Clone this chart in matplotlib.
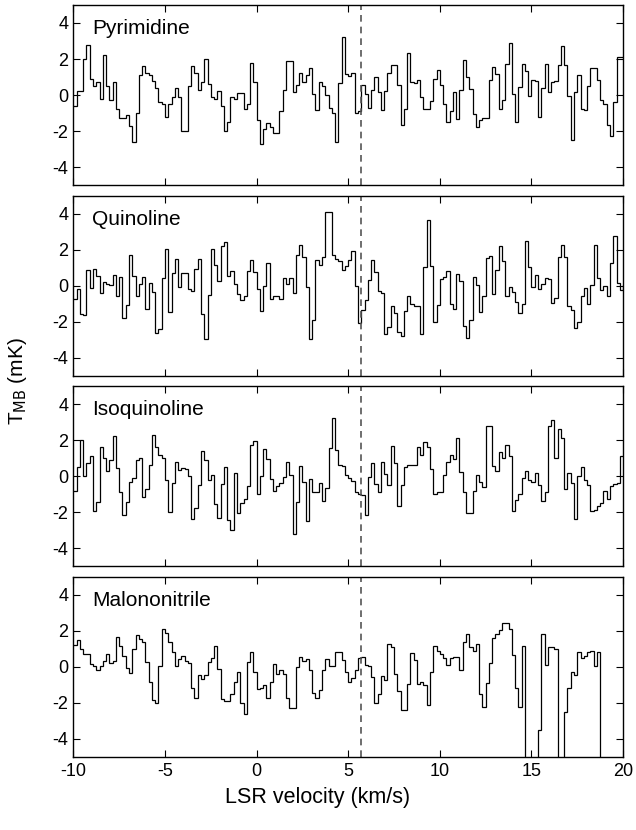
import numpy as np
import matplotlib
matplotlib.use("Agg")
import matplotlib.pyplot as plt

# ---------------- data ----------------
V0 = -10.0          # velocity of first channel edge (km/s)
DV = 0.1786         # channel width (km/s)
V_SYS = 5.7         # systemic velocity (dashed line)

names = ["Pyrimidine", "Quinoline", "Isoquinoline", "Malononitrile"]

pyrimidine = [
    -0.6, 0.2, 0.2, 2.0, 2.8, 0.9, 0.5, 0.7, -0.2, 2.2, 0.5, -0.3, 0.7, -0.8, -1.3, -1.3, -1.1, -1.7, -2.6, -1.0,
    1.1, 1.6, 1.2, 1.1, 0.8, 0.4, -0.4, -0.5, -1.2, -0.5, -0.1, 0.4, -0.1, -2.0, -2.0, 0.5, 1.6, 1.2, 0.3, 0.7,
    2.0, 0.6, -0.1, -0.2, 0.2, -0.6, -2.0, -1.5, -0.1, -0.2, 0.1, 0.1, -0.8, -0.5, 1.8,
    0.75, -1.4, -2.7, -1.9, -1.55, -1.8, -2.1, -2.1, -0.9, 0.3, 1.9, 1.9, 0.15, 0.55, 1.2, 0.7, 1.1, 1.5, 0.05, -0.85,
    0.7, 0.5, 0.0, -0.7, -1.0, -2.6, 0.65, 3.2, 1.15, 1.05, 1.2, -1.0, -0.9, 0.55, 0.05, -0.7, 0.3, 1.0, 0.15, -0.85,
    0.2, 1.25, 1.65, 1.65, 0.55, -1.65, -0.8, 2.35, 0.7, 0.65, 0.85, -0.1, -0.8, -0.8, -0.35, 0.9, 1.4, 0.55,
    -0.5, -1.5, -0.9, 0.15, -1.35, 0.3, 1.95, 1.0, 0.35, -1.05, -1.8, -1.4, -1.25, -1.25, 0.85, 1.55, 1.15, -0.8,
    -0.3, 1.7, 2.9, 0.05, -1.5, 0.45, 1.75, 1.35, -0.05, 0.85, 0.8, -1.2, 0.4, 1.7, 0.15, 0.7, 0.8, 1.65, 2.7, 1.65,
    -0.05, -2.5, 0.15, 1.1, -0.8, -0.85, 0.5, 1.5, 1.5, 0.85, -0.3, -0.5, -1.65, -2.3, -0.4, 2.1, 2.1,
]

quinoline = [
    -0.75, -0.2, -1.55, -1.65, 0.85, -0.15, 0.9, 0.55, -0.4, 0.2, 0.1, 0.05, 0.6, -0.6, 0.5, -1.8, -1.1, 1.7, 0.55,
    -0.6, 0.1, 0.5, -1.3, 0.15, -0.35, -2.65, -2.4, 0.4, 2.05, -1.45, 0.7, 1.5, -0.05, 0.7, 0.7, -0.2, -0.3, 0.95,
    1.5, -1.55, -2.95, -0.5, 2.05, 1.15, 0.25, 2.2, 2.4, 0.55, 0.8, 0.1, -0.45, -0.8, -0.55, 0.8, 1.4, 0.75,
    -0.2, -1.4, 0.0, 1.25, -0.75, -0.55, -0.55, -0.75, 0.4, 0.1, 0.4, -0.4, 1.7, 2.25, 1.6, -0.05, -2.95, -1.9,
    1.45, 1.15, 1.6, 4.1, 4.1, 1.7, 1.5, 1.35, 0.85, 1.1, 1.45, 1.95, 0.0, -2.1, -1.35, -0.8, 0.3, 1.45, 0.75, -0.3,
    -0.4, -2.7, -2.3, -1.15, -1.5, -2.55, -2.8, -1.4, -0.6, -1.0, -1.15, -1.15, -2.7, 1.05, 3.65, 1.1, -2.0, -1.1,
    0.35, 0.5, 0.8,
    -1.0, -1.3, 0.65, 0.25, -2.25, -2.9, -1.9, 0.5, 0.05, -1.45, -0.55, 1.55, 1.65, -0.45, 0.85, 2.2, 1.35, -0.6,
    -0.05, -0.35, -0.9, -1.5, -1.0, 2.5, 1.05, -0.05, 0.6, -0.2, 0.1, 0.45, 0.35, -0.95, -0.7, 1.6, 2.25, 1.6,
    -1.15, -1.35, -2.35, -2.0, -0.6, -0.15, -1.0, 0.05, 2.25, 0.45, -0.25, 0.0, -0.55, 1.25, 2.75, 0.15, -0.25, 0.05,
]

isoquinoline = [
    -0.8, 0.5, 2.0, 0.0, 0.75, 1.15, -1.9, -1.45, 1.65, 1.0, 0.3, 0.9, 2.25, 0.45, -0.9, -2.15, -1.45, -0.3, -0.1,
    0.9, 1.0, -1.15, -0.7, 0.65, 2.3, 1.65, 1.2, 1.0, -0.2, -2.0, -0.35, 0.8, 0.35, 0.45, 0.4, 0.0, -2.35, -1.75,
    -0.5, 1.4, 0.9, -0.2, 0.05, -1.55, -2.3, -0.45, 0.5, -2.45, -3.0, 0.2, -2.05, -1.5, -1.25, -0.55, 1.75,
    1.95, -1.0, 0.0, 1.5, 0.95, -0.15, -0.8, -0.55, -0.4, -0.05, 0.8, 0.05, -3.2, -1.45, 0.55, -0.3, -2.5, -0.15,
    -0.9, -0.9, -0.35, -1.35, -0.65, 1.55, 3.25, 1.45, 0.65, 0.55, 0.05, -0.1, -0.25, -0.85, -1.0, -1.05, -2.15,
    -0.05, 0.75, -0.45, -0.9, 0.8, 0.1, -0.5, 1.7, 0.75, -1.65, -0.5, 0.5, 0.6, 0.6, 0.65, 1.6, 1.2, 1.9, 1.65,
    0.4, -1.0, -0.9, -0.85,
    0.05, 0.8, 1.2, 0.95, 2.1, 0.25, -0.9, -2.05, -2.05, -0.8, 0.05, -0.3, -0.6, 2.8, 2.8, 0.55, 0.3, 1.35, 1.0,
    1.75, 1.1, -1.9, -1.3, -1.0, -0.1, 0.3, -0.2, -0.3, 0.2, -0.5, -1.4, -0.85, 2.8, 3.1, 1.0, 2.6, 2.1, -0.7, 0.2,
    -0.35, -2.35, 0.0, 0.5, -0.2, -0.5, -1.95, -1.85, -1.65, -1.5, -0.8, -1.25, -0.55, -0.45, -0.35, 1.15,
]

malononitrile = [
    1.2, 1.5, 1.0, 0.7, 0.7, 0.15, 0.05, -0.15, 0.05, 0.3, 0.7, 0.2, 0.35, 1.65, 1.15, 0.6, -0.05, -0.35, 1.0, 1.75,
    1.55, 1.4, 0.25, -0.85, -1.85, -2.0, 0.05, 2.1, 1.9, 1.4, 0.85, 0.05, 0.45, 0.6, 0.35, 0.2, -1.15, -1.7, -0.45,
    -0.65, -0.45, 0.25, 0.5, 1.15, -0.1, -1.8, -1.9, -1.9, -1.5, -0.85, -0.3, -2.0, -2.6, 0.25, 0.8,
    -0.3, -1.25, -1.15, -1.0, -1.75, -0.85, 0.15, -0.4, -0.2, -0.4, -1.7, -2.3, -2.3, 0.0, 0.55, 0.3, 0.45, -0.2,
    -1.45, -1.75, -1.3, -0.15, 0.45, 0.05, 0.05, 0.8, 0.85, 0.4, -0.3, -0.85, -0.6, -0.2, 0.5, 0.55, 0.1, 0.05,
    -0.55, -2.0, -1.5, -0.5, -0.75, 1.25, 1.1, -0.4, -1.35, -2.4, -2.4, -0.95, 0.75, 0.4, -0.95, -0.85, -1.0, -2.1,
    -0.3, 1.15, 0.9,
    0.7, 0.5, 0.1, 0.5, 0.55, 0.55, -0.2, 1.4, 1.85, 1.1, 0.9, 1.25, -1.5, -2.2, -0.9, 0.2, 1.6, 1.85, 2.05, 2.45,
    2.45, 2.1, 0.65, -1.2, -2.25, 1.15, -8.0, -9.0, -9.0, -8.0, -3.5, 1.8, 0.1, 1.1, 1.1, 1.0, -8.0, -8.0, -2.5,
    -1.2, -0.3, -0.45, 0.8, 0.5, 0.6, 0.8, 0.9, 0.05, 0.8, -8.0, -8.0, -8.0, -8.0, -8.0, -8.0,
]

spectra = [pyrimidine, quinoline, isoquinoline, malononitrile]

x_ticks = [-10, -5, 0, 5, 10, 15, 20]
y_ticks = [4, 2, 0, -2, -4]

# ---------------- plot ----------------
plt.rcParams["font.family"] = ["Liberation Sans", "DejaVu Sans"]
plt.rcParams["axes.unicode_minus"] = False

fig = plt.figure(figsize=(6.36, 8.30), dpi=100)
gs = fig.add_gridspec(4, 1, left=0.1153, right=0.9796, top=0.994, bottom=0.088, hspace=0.058)

for k, (name, vals) in enumerate(zip(names, spectra)):
    ax = fig.add_subplot(gs[k])
    vals = np.asarray(vals, dtype=float)
    edges = V0 + DV * np.arange(len(vals) + 1)
    ax.stairs(vals, edges, color="black", linewidth=0.9, baseline=None)
    ax.axvline(V_SYS, color="#555555", linestyle=(0, (4, 3)), linewidth=1.2)
    ax.set_xlim(-10, 20)
    ax.set_ylim(-5, 5)
    ax.set_xticks(x_ticks)
    ax.set_yticks(y_ticks)
    ax.tick_params(direction="in", top=True, right=True, length=5, width=0.8, labelsize=13)
    ax.tick_params(axis="x", pad=4.5)
    for s in ax.spines.values():
        s.set_linewidth(1.0)
    if k < 3:
        ax.tick_params(labelbottom=False)
    ax.text(0.034, 0.87, name, transform=ax.transAxes, fontsize=15,
            ha="left", va="center")

fig.text(0.5, 0.039, "LSR velocity (km/s)", ha="center", va="center", fontsize=15.5)
fig.text(0.028, 1 - 381 / 830, r"T$_{\mathrm{MB}}$ (mK)", ha="center", va="center",
         rotation=90, fontsize=15)

fig.savefig("out.png", dpi=100)
